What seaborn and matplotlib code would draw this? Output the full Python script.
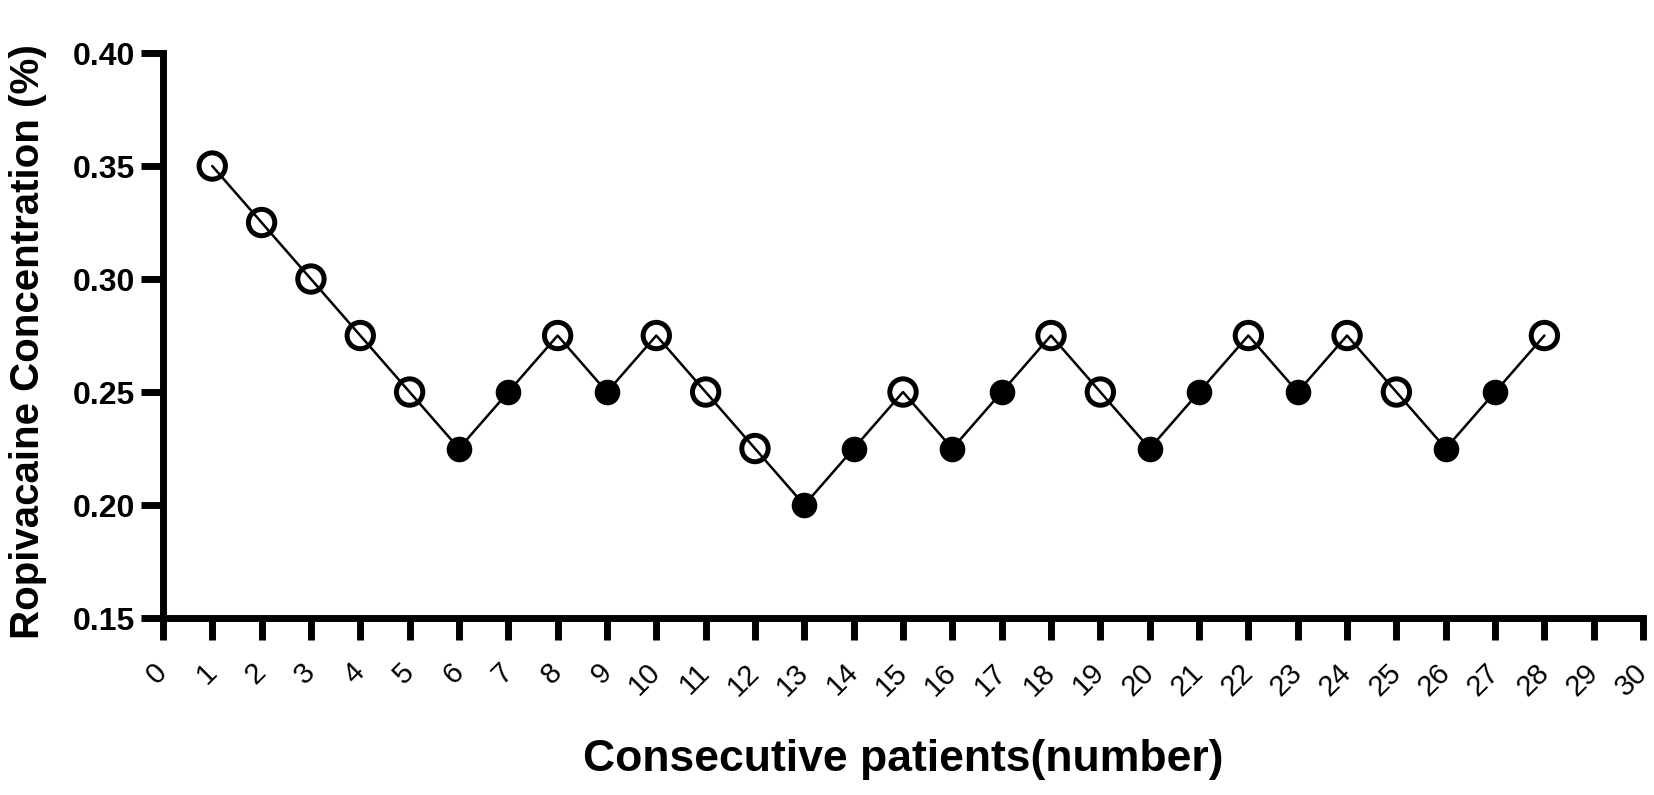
import pandas as pd
import matplotlib
matplotlib.use("Agg")
import matplotlib.pyplot as plt
import seaborn as sns

patients = list(range(1, 29))
concentration = [0.35, 0.325, 0.30, 0.275, 0.25, 0.225, 0.25, 0.275, 0.25, 0.275,
                 0.25, 0.225, 0.20, 0.225, 0.25, 0.225, 0.25, 0.275, 0.25, 0.225,
                 0.25, 0.275, 0.25, 0.275, 0.25, 0.225, 0.25, 0.275]
# 1 = effective block (filled), 0 = ineffective (open)
effective = [0, 0, 0, 0, 0, 1, 1, 0, 1, 0,
             0, 0, 1, 1, 0, 1, 1, 0, 0, 1,
             1, 0, 1, 0, 0, 1, 1, 0]
x_ticks = list(range(0, 31))
y_ticks = [0.15, 0.20, 0.25, 0.30, 0.35, 0.40]

df = pd.DataFrame({'patient': patients, 'conc': concentration, 'eff': effective})

sns.set_style('ticks')
plt.rcParams['font.family'] = ['Liberation Sans', 'DejaVu Sans']
plt.rcParams['text.color'] = 'black'
plt.rcParams['axes.labelcolor'] = 'black'
plt.rcParams['xtick.color'] = 'black'
plt.rcParams['ytick.color'] = 'black'

fig = plt.figure(figsize=(16.54, 7.95), dpi=100)
ax = fig.add_axes([0.0985, 0.2226, 0.8949, 0.7107])

sns.lineplot(data=df, x='patient', y='conc', color='black', linewidth=1.8, ax=ax, zorder=2)
filled = df[df['eff'] == 1]
hollow = df[df['eff'] == 0]
sns.scatterplot(data=filled, x='patient', y='conc', s=340, color='black',
                edgecolor='black', linewidth=0, ax=ax, zorder=3)
sns.scatterplot(data=hollow, x='patient', y='conc', s=360, facecolor='none',
                edgecolor='black', linewidth=3.6, ax=ax, zorder=3)

ax.set_xlim(0, 30)
ax.set_ylim(0.15, 0.40)
ax.set_xticks(x_ticks)
ax.set_xticklabels([str(t) for t in x_ticks], fontsize=21)
ax.set_yticks(y_ticks)
ax.set_yticklabels([f'{t:.2f}' for t in y_ticks], fontsize=23, fontweight='bold')
ax.tick_params(axis='both', width=5, length=16, color='black')
ax.tick_params(axis='y', pad=4)
ax.tick_params(axis='x', pad=20)

for side in ['top', 'right']:
    ax.spines[side].set_visible(False)
for side in ['left', 'bottom']:
    ax.spines[side].set_linewidth(5)
    ax.spines[side].set_color('black')
    ax.spines[side].set_capstyle('projecting')

ax.set_xlabel('Consecutive patients(number)', fontsize=32, fontweight='bold')
ax.set_ylabel('Ropivacaine Concentration (%)', fontsize=29, fontweight='bold')
ax.xaxis.set_label_coords(0.5, -0.251)
ax.xaxis.label.set_va('center')
ax.yaxis.set_label_coords(-0.091, 0.49)
ax.yaxis.label.set_va('center')

for t in ax.get_xticklabels():
    t.set_rotation(45)
    t.set_rotation_mode('anchor')
    t.set_ha('right')
    t.set_va('center')

fig.savefig('out.png', dpi=100)
